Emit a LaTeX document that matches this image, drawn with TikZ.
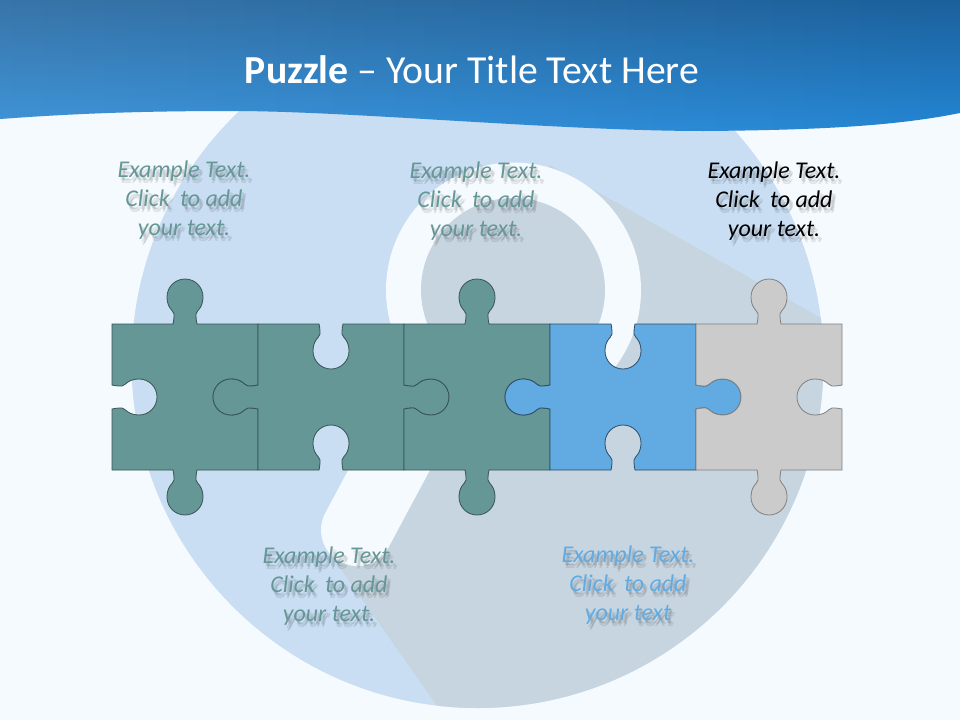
\documentclass[tikz,border=0pt]{standalone}
\usepackage{fontspec}
\setmainfont{Carlito}
\usetikzlibrary{fadings}
\definecolor{pz_bg}{RGB}{245, 250, 254}
\definecolor{pz_disc}{RGB}{201, 222, 243}
\definecolor{pz_grey}{RGB}{199, 213, 224}
\definecolor{pz_teal}{RGB}{102, 151, 151}
\definecolor{pz_blue}{RGB}{98, 171, 226}
\definecolor{pz_silver}{RGB}{203, 203, 203}
\definecolor{pz_top}{RGB}{27, 96, 155}
\definecolor{pz_low}{RGB}{36, 134, 212}
\tikzstyle{tp}=[fill=pz_teal,draw=pz_teal!55!black,line width=0.8pt]
\tikzstyle{bp}=[fill=pz_blue,draw=pz_blue!45!black,line width=0.8pt]
\tikzstyle{sp}=[fill=pz_silver,draw=black!50,line width=0.8pt]
\tikzstyle{lb}=[align=center,font=\itshape\fontsize{24}{29}\selectfont]
\tikzstyle{ls}=[lb,text=black,text opacity=0.09]
% one side of a piece: start x, start y, turn, 1 for a tab or -1 for a hole
\newcommand{\nub}[4]{{[shift={(#1,#2)},rotate=#3,yscale=#4] -- (0,0) -- (61,0)
  .. controls (62,-4) and (62,-8) .. (62,-10)
  .. controls (62,-12) and (59,-14) .. (58,-16)
  .. controls (56,-19) and (55,-23) .. (55,-27)
  .. controls (55,-37) and (63,-45) .. (73,-45)
  .. controls (83,-45) and (91,-37) .. (91,-27)
  .. controls (91,-23) and (90,-19) .. (88,-16)
  .. controls (87,-14) and (84,-12) .. (84,-10)
  .. controls (84,-8) and (84,-4) .. (85,0) -- (146,0)}}
% style, x, y, then top, right, bottom and left sides
\newcommand{\piece}[7]{\draw[#1] (#2,#3) \nub{#2}{#3}{0}{#4}
  \nub{#2+146}{#3}{-90}{#5} \nub{#2+146}{#3+146}{180}{#6}
  \nub{#2}{#3+146}{90}{#7} -- cycle;}
% name, x, y, colour, text
\newcommand{\lab}[5]{
  \foreach \dx/\dy/\n in {2/3/a,4/4/b,3/6/c}
    \node [style=ls] (#1\n) at (#2+\dx,#3+\dy) {#5};
  \node [style=lb,text=#4] (#1) at (#2,#3) {#5};}

\begin{document}
\begin{tikzpicture}[x=1pt,y=-1pt]
    \useasboundingbox (0,0) rectangle (960,720);
    \fill[pz_bg] (0,0) rectangle (960,720);
    \fill[pz_disc] (477.5,362) circle (346pt);
    \begin{scope}
      \clip (477.5,362) circle (346pt);
      \fill[pz_grey] (550,165) -- (860,340) -- (860,730) -- (454,730) -- (338,565) -- (430,400) -- cycle;
    \end{scope}
    % glass and handle
    \fill[pz_bg] (513.5,290) circle (127.5pt);
    \draw[pz_bg,line width=72pt,line cap=round] (357,530) -- (440,375);
    \fill[pz_grey] (513,290) circle (92pt);
    % header
    \path[top color=pz_top,bottom color=pz_low]
      (0,0) -- (960,0) -- (960,113) .. controls (900,125) and (830,130) .. (704,131)
      .. controls (560,131) and (350,111) .. (233,111)
      .. controls (150,111) and (80,113) .. (0,119) -- cycle;
    \fill[white,path fading=east,opacity=0.13]
      (0,0) -- (960,0) -- (960,113) .. controls (900,125) and (830,130) .. (704,131)
      .. controls (560,131) and (350,111) .. (233,111)
      .. controls (150,111) and (80,113) .. (0,119) -- cycle;
    \node [text=white,font=\fontsize{39.7}{44}\selectfont] (title) at (472,70)
      {\textbf{Puzzle} – Your Title Text Here};
    % pieces
    \piece{tp}{112}{324}{1}{-1}{1}{-1}
    \piece{tp}{258}{324}{-1}{1}{-1}{1}
    \piece{tp}{404}{324}{1}{-1}{1}{-1}
    \piece{bp}{550}{324}{-1}{1}{-1}{1}
    \piece{sp}{696}{324}{1}{-1}{1}{-1}
    % texts
    \lab{t1}{184}{200}{pz_teal}{Example Text.\\Click\hspace{.2em} to add\\your text.}
    \lab{t2}{476}{201}{pz_teal}{Example Text.\\Click\hspace{.2em} to add\\your text.}
    \lab{t3}{774}{201}{black}{Example Text.\\Click\hspace{.2em} to add\\your text.}
    \lab{t4}{329}{586}{pz_teal}{Example Text.\\Click\hspace{.2em} to add\\your text.}
    \lab{t5}{628}{585}{pz_blue}{Example Text.\\Click\hspace{.2em} to add\\your text}
\end{tikzpicture}
\end{document}
